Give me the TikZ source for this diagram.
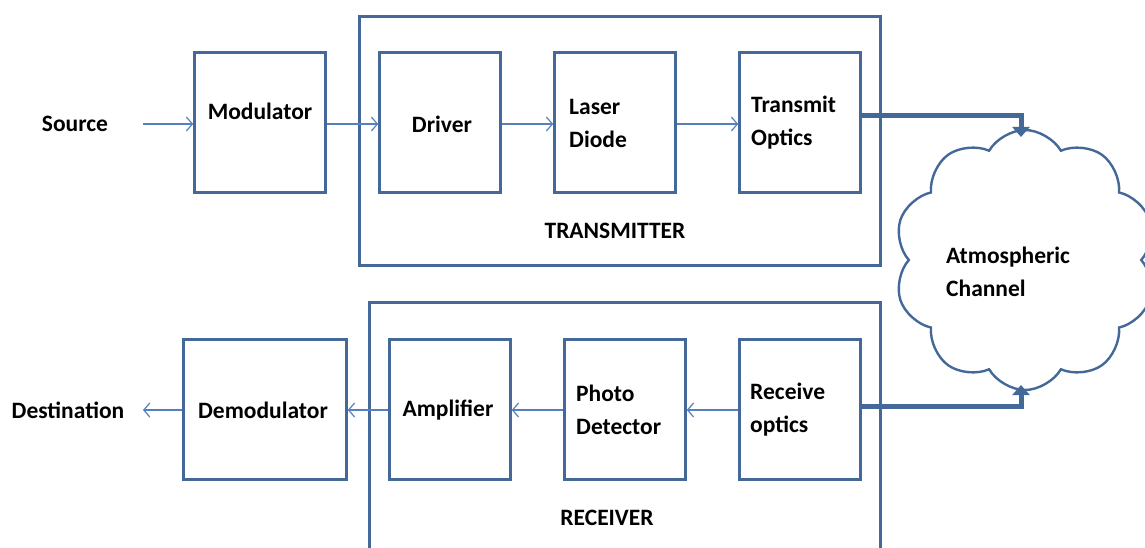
\documentclass[tikz,border=0pt]{standalone}
\usepackage{fontspec}
\setmainfont{Carlito}
\usetikzlibrary{shapes.symbols,arrows.meta}
\definecolor{boxc}{RGB}{68,104,152}
\definecolor{arrc}{RGB}{84,128,190}
\begin{document}
\begin{tikzpicture}[x=1pt,y=-1pt,
  blk/.style={draw=boxc, line width=2.6pt, inner sep=0pt},
  lbl/.style={font=\fontsize{23.5}{33}\selectfont\bfseries, align=left, inner sep=0pt},
  flow/.style={draw=arrc, line width=1.2pt, -{Straight Barb[length=6pt,width=14pt]}},
  big/.style={draw=boxc, line width=5pt, -{Triangle[length=10pt,width=17pt]}}]
\useasboundingbox (0,0) rectangle (1145,548);
\clip (0,0) rectangle (1145,548);
% outer frames
\node[blk, minimum width=521pt, minimum height=249pt] (tm) at (620,141) {};
\node[blk, minimum width=511pt, minimum height=300pt] (rm) at (625,452.5) {};
% transmitter chain
\node[blk, minimum width=131pt, minimum height=140pt] (mod) at (260,122.5) {};
\node[blk, minimum width=121pt, minimum height=140pt] (drv) at (440,122.5) {};
\node[blk, minimum width=121pt, minimum height=140pt] (las) at (615,122.5) {};
\node[blk, minimum width=121pt, minimum height=140pt] (tx) at (800,122.5) {};
% receiver chain
\node[blk, minimum width=163pt, minimum height=140pt] (dem) at (265,409.5) {};
\node[blk, minimum width=121pt, minimum height=140pt] (amp) at (450,409.5) {};
\node[blk, minimum width=121pt, minimum height=140pt] (pd) at (625,409.5) {};
\node[blk, minimum width=121pt, minimum height=140pt] (rx) at (800,409.5) {};
% cloud
\node[cloud, draw=boxc, line width=2.4pt, cloud puffs=10, cloud puff arc=120, aspect=1,
      minimum width=262pt, minimum height=260pt] (cl) at (1025,260) {};
% texts
\node[lbl] (tsrc) at (75,124) {Source};
\node[lbl] (tmod) at (260,111) {Modulator};
\node[lbl] (tdrv) at (442,124) {Driver};
\node[lbl, anchor=west] (tlas) at (569,123) {Laser\\Diode};
\node[lbl, anchor=west] (ttx) at (751,123) {Transmit\\Optics};
\node[lbl] (ttm) at (615,231) {TRANSMITTER};
\node[lbl] (tdst) at (68,410) {Destination};
\node[lbl] (tdem) at (263,410) {Demodulator};
\node[lbl] (tamp) at (448,410) {Amplifier};
\node[lbl, anchor=west] (tpd) at (576,410) {Photo\\Detector};
\node[lbl, anchor=west] (trx) at (750,410) {Receive\\optics};
\node[lbl] (trm) at (607,518) {RECEIVER};
\node[lbl, anchor=west] (tcl) at (946,272) {Atmospheric\\Channel};
% coordinates for free ends
\coordinate (s1) at (143,124);
\coordinate (d1) at (143,410);
\coordinate (ctop) at (1021,137);
\coordinate (cbot) at (1021,385);
\coordinate (ty) at (0,116);
\coordinate (ry) at (0,406);
% thin connectors
\draw[flow] (s1) -- (s1 -| mod.west);
\draw[flow] (mod.east |- s1) -- (drv.west |- s1);
\draw[flow] (drv.east |- s1) -- (las.west |- s1);
\draw[flow] (las.east |- s1) -- (tx.west |- s1);
\draw[flow] (rx.west |- d1) -- (pd.east |- d1);
\draw[flow] (pd.west |- d1) -- (amp.east |- d1);
\draw[flow] (amp.west |- d1) -- (dem.east |- d1);
\draw[flow] (dem.west |- d1) -- (d1);
% thick connectors
\draw[big] (tx.east |- ty) -| (ctop);
\draw[big] (rx.east |- ry) -| (cbot);
\end{tikzpicture}
\end{document}
